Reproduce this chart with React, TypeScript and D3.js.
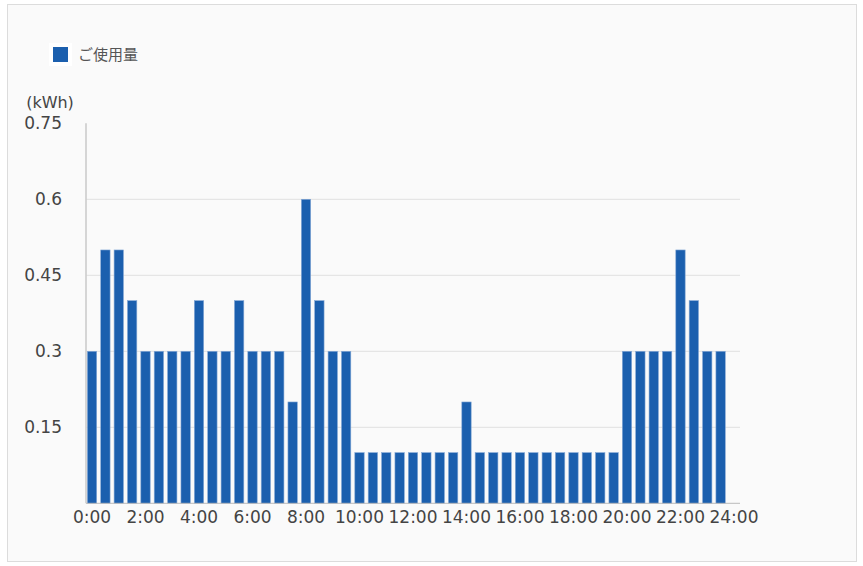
import React from "react";
import * as d3 from "d3";

const categories: string[] = [
  "0:00", "0:30", "1:00", "1:30", "2:00", "2:30", "3:00", "3:30",
  "4:00", "4:30", "5:00", "5:30", "6:00", "6:30", "7:00", "7:30",
  "8:00", "8:30", "9:00", "9:30", "10:00", "10:30", "11:00", "11:30",
  "12:00", "12:30", "13:00", "13:30", "14:00", "14:30", "15:00", "15:30",
  "16:00", "16:30", "17:00", "17:30", "18:00", "18:30", "19:00", "19:30",
  "20:00", "20:30", "21:00", "21:30", "22:00", "22:30", "23:00", "23:30",
  "24:00",
];

const usage: number[] = [
  0.3, 0.5, 0.5, 0.4, 0.3, 0.3, 0.3, 0.3,
  0.4, 0.3, 0.3, 0.4, 0.3, 0.3, 0.3, 0.2,
  0.6, 0.4, 0.3, 0.3, 0.1, 0.1, 0.1, 0.1,
  0.1, 0.1, 0.1, 0.1, 0.2, 0.1, 0.1, 0.1,
  0.1, 0.1, 0.1, 0.1, 0.1, 0.1, 0.1, 0.1,
  0.3, 0.3, 0.3, 0.3, 0.5, 0.4, 0.3, 0.3,
];

const xTickLabels: string[] = [
  "0:00", "2:00", "4:00", "6:00", "8:00", "10:00", "12:00",
  "14:00", "16:00", "18:00", "20:00", "22:00", "24:00",
];

const yTicks: number[] = [0.15, 0.3, 0.45, 0.6, 0.75];
const gridTicks: number[] = [0.15, 0.3, 0.45, 0.6];

const seriesName = "ご使用量";
const unitLabel = "(kWh)";

const W = 863;
const H = 566;
const left = 86;
const right = 740;
const top = 123.3;
const bottom = 503.3;

const FONT = "'DejaVu Sans', 'Noto Sans CJK JP', sans-serif";
const BAR = "#1b5fae";

export default function App() {
  const x = d3
    .scaleBand<string>()
    .domain(categories)
    .range([left, right])
    .paddingInner(0.3)
    .paddingOuter(0.1);
  const y = d3.scaleLinear().domain([0, 0.75]).range([bottom, top]);
  const fmt = (v: number) => String(+v.toFixed(2));

  return (
    <svg
      width={W}
      height={H}
      style={{ position: "absolute", left: 0, top: 0, background: "#ffffff" }}
    >
      <rect x={7.5} y={4.5} width={849} height={557} fill="#fafafa" stroke="#dcdcdc" strokeWidth={1} />

      {/* legend */}
      <rect x={49} y={43} width={23} height={23} fill="#ffffff" />
      <rect x={53} y={47} width={15} height={15} fill={BAR} />
      <text
        x={78}
        y={55}
        fontFamily={FONT}
        fontSize={15}
        fill="#555"
        dominantBaseline="central"
      >
        {seriesName}
      </text>

      {/* unit */}
      <text
        x={50}
        y={102}
        fontFamily={FONT}
        fontSize={16}
        fill="#444"
        textAnchor="middle"
        dominantBaseline="central"
      >
        {unitLabel}
      </text>

      {/* grid */}
      {gridTicks.map((t) => (
        <line
          key={"g" + t}
          x1={left}
          x2={right}
          y1={y(t)}
          y2={y(t)}
          stroke="#e0e0e0"
          strokeWidth={1}
        />
      ))}

      {/* y labels */}
      {yTicks.map((t) => (
        <text
          key={"y" + t}
          x={62}
          y={y(t)}
          fontFamily={FONT}
          fontSize={17}
          fill="#444"
          textAnchor="end"
          dominantBaseline="central"
        >
          {fmt(t)}
        </text>
      ))}

      {/* bars */}
      {usage.map((v, i) => (
        <rect
          key={"b" + i}
          x={x(categories[i])!}
          y={y(v)}
          width={x.bandwidth()}
          height={y(0) - y(v)}
          fill={BAR}
          stroke="#86a9d6"
          strokeWidth={0.6}
        />
      ))}

      {/* axes */}
      <line x1={left} x2={left} y1={top} y2={bottom} stroke="#cccccc" strokeWidth={1.6} />
      <line x1={left} x2={right} y1={bottom} y2={bottom} stroke="#bbbbbb" strokeWidth={1} />

      {/* x labels */}
      {xTickLabels.map((c) => (
        <text
          key={"x" + c}
          x={x(c)! + x.bandwidth() / 2}
          y={517}
          fontFamily={FONT}
          fontSize={17}
          fill="#444"
          textAnchor="middle"
          dominantBaseline="central"
        >
          {c}
        </text>
      ))}
    </svg>
  );
}
